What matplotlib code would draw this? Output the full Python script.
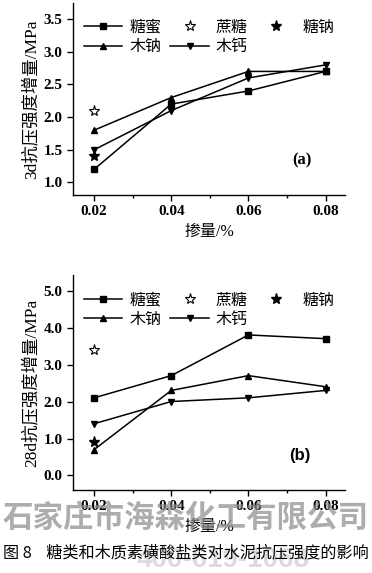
import matplotlib
matplotlib.use("Agg")
import matplotlib.pyplot as plt
from matplotlib.ticker import MultipleLocator, FormatStrFormatter

plt.rcParams['font.family'] = ['Liberation Serif', 'Noto Sans CJK SC']
plt.rcParams['axes.linewidth'] = 1.0

# 掺量 (%)
dosage = [0.02, 0.04, 0.06, 0.08]

# (a) 3d 抗压强度增量
a_tangmi = [1.2, 2.2, 2.4, 2.7]
a_muna = [1.8, 2.3, 2.7, 2.7]
a_mugai = [1.5, 2.1, 2.6, 2.8]
a_zhetang = [2.1]
a_tangna = [1.4]

# (b) 28d 抗压强度增量
b_tangmi = [2.1, 2.7, 3.8, 3.7]
b_muna = [0.7, 2.3, 2.7, 2.4]
b_mugai = [1.4, 2.0, 2.1, 2.3]
b_zhetang = [3.4]
b_tangna = [0.9]

cjk = ['Noto Sans CJK SC', 'DejaVu Sans']

fig = plt.figure(figsize=(3.72, 5.73), dpi=100)
ax1 = fig.add_axes([0.196, 0.660, 0.731, 0.335])
ax2 = fig.add_axes([0.196, 0.145, 0.731, 0.375])


def draw(ax, tangmi, muna, mugai, zhetang, tangna, leg_y):
    h1, = ax.plot(dosage, tangmi, 'k-', marker='s', ms=4.5, lw=1.1, label='糖蜜')
    h4, = ax.plot(dosage, muna, 'k-', marker='^', ms=5, lw=1.1, label='木钠')
    h5, = ax.plot(dosage, mugai, 'k-', marker='v', ms=5, lw=1.1, label='木钙')
    h2, = ax.plot(dosage[:1], zhetang, ls='none', marker='*', ms=8, mfc='white',
                  mec='k', mew=0.8, label='蔗糖')
    h3, = ax.plot(dosage[:1], tangna, ls='none', marker='*', ms=8, color='k', label='糖钠')
    ax.legend([h1, h4, h2, h5, h3], ['糖蜜', '木钠', '蔗糖', '木钙', '糖钠'],
              ncol=3, loc='upper left', bbox_to_anchor=(0.0, leg_y), frameon=False,
              prop={'family': cjk, 'size': 11.5}, handlelength=2.4,
              columnspacing=0.55, handletextpad=0.45, labelspacing=0.15,
              borderaxespad=0.3)
    ax.set_xlim(0.0145, 0.085)
    ax.xaxis.set_major_locator(MultipleLocator(0.02))
    ax.xaxis.set_minor_locator(MultipleLocator(0.01))
    ax.xaxis.set_major_formatter(FormatStrFormatter('%.2f'))
    ax.spines['top'].set_visible(False)
    ax.spines['right'].set_visible(False)
    ax.tick_params(direction='out', length=4, width=1, labelsize=11)
    ax.tick_params(which='minor', direction='out', length=2.5, width=1)
    ax.set_xlabel('掺量/%', fontsize=11.5, labelpad=4)


draw(ax1, a_tangmi, a_muna, a_mugai, a_zhetang, a_tangna, 0.975)
ax1.set_ylim(0.81, 3.75)
ax1.yaxis.set_major_locator(MultipleLocator(0.5))
ax1.yaxis.set_major_formatter(FormatStrFormatter('%.1f'))
ax1.set_ylabel('3d抗压强度增量/MPa', fontsize=12.5, labelpad=3)
ax1.text(0.0713, 1.28, '(a)', fontsize=12, fontweight='bold', family='Liberation Serif')

draw(ax2, b_tangmi, b_muna, b_mugai, b_zhetang, b_tangna, 0.975)
ax2.set_ylim(-0.39, 5.42)
ax2.yaxis.set_major_locator(MultipleLocator(1.0))
ax2.yaxis.set_major_formatter(FormatStrFormatter('%.1f'))
ax2.set_ylabel('28d抗压强度增量/MPa', fontsize=12.5, labelpad=3)
ax2.text(0.0705, 0.43, '(b)', fontsize=12, fontweight='bold', family='Liberation Sans')

for ax in (ax1, ax2):
    for t in ax.get_xticklabels() + ax.get_yticklabels():
        t.set_fontweight('bold')

# watermark
fig.text(0.5, 0.097, '石家庄市海森化工有限公司', ha='center', va='center', fontsize=22,
         fontweight='bold', family=cjk, color='#8a8a8a', alpha=0.7)
fig.text(0.6, 0.022, '400-619-1068', ha='center', va='center', fontsize=20,
         fontweight='bold', family='Liberation Sans', color='#c4c4c4', alpha=0.6)

fig.text(0.008, 0.035, '图 8    糖类和木质素磺酸盐类对水泥抗压强度的影响', ha='left',
         va='center', fontsize=11.6, family=cjk)

fig.savefig('out.png', dpi=100)
